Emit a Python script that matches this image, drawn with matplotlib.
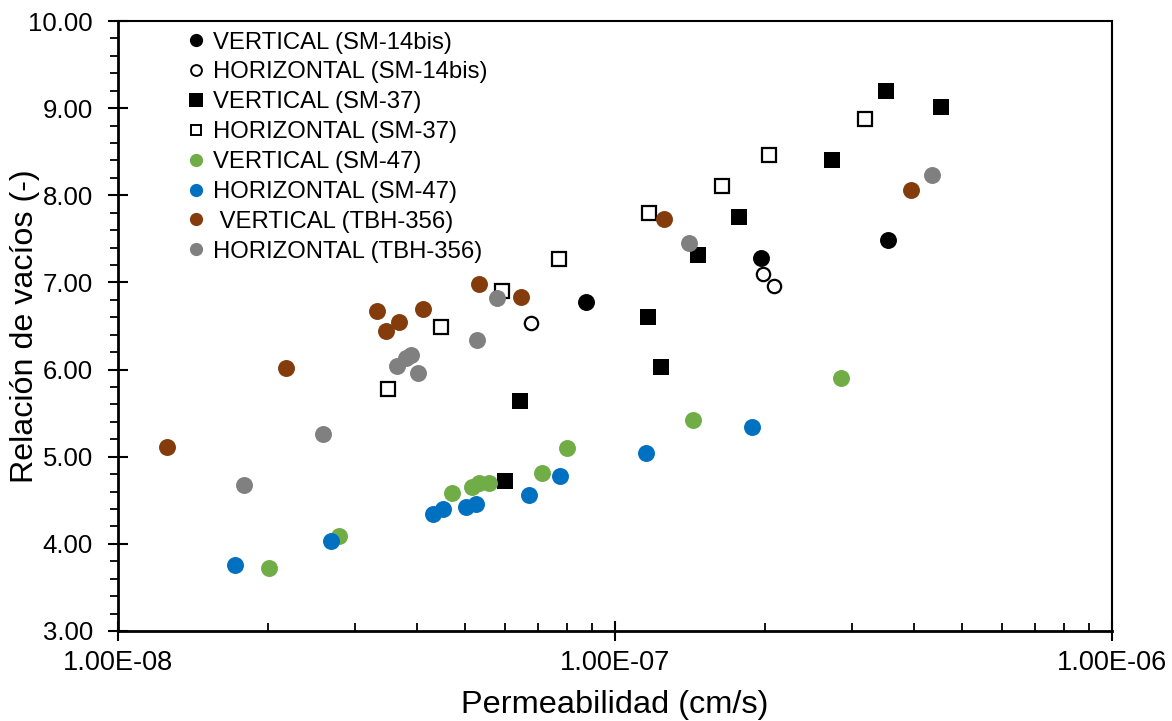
import matplotlib
matplotlib.use("Agg")
import matplotlib.pyplot as plt
from matplotlib.lines import Line2D
from matplotlib.ticker import FixedLocator, FuncFormatter, MultipleLocator, LogLocator, NullFormatter

plt.rcParams['font.family'] = ['Liberation Sans', 'DejaVu Sans']

# ---- data ----
sm14_v_k = [8.74e-8, 1.97e-7, 3.54e-7]
sm14_v_e = [6.78, 7.28, 7.49]

sm14_h_k = [6.78e-8, 1.985e-7, 2.089e-7]
sm14_h_e = [6.53, 7.10, 6.96]

sm37_v_k = [6.01e-8, 6.44e-8, 1.165e-7, 1.238e-7, 1.469e-7, 1.776e-7, 2.733e-7, 3.51e-7, 4.53e-7]
sm37_v_e = [4.72, 5.64, 6.60, 6.03, 7.31, 7.75, 8.41, 9.20, 9.01]

sm37_h_k = [3.49e-8, 4.47e-8, 5.93e-8, 7.72e-8, 1.170e-7, 1.642e-7, 2.041e-7, 3.18e-7]
sm37_h_e = [5.78, 6.49, 6.90, 7.27, 7.80, 8.11, 8.46, 8.88]

sm47_v_k = [2.01e-8, 2.78e-8, 4.70e-8, 5.16e-8, 5.33e-8, 5.58e-8, 7.13e-8, 8.01e-8, 1.436e-7, 2.85e-7]
sm47_v_e = [3.72, 4.09, 4.58, 4.65, 4.70, 4.70, 4.81, 5.10, 5.42, 5.90]

sm47_h_k = [1.72e-8, 2.68e-8, 4.30e-8, 4.51e-8, 5.01e-8, 5.25e-8, 6.71e-8, 7.75e-8, 1.154e-7, 1.887e-7]
sm47_h_e = [3.76, 4.03, 4.34, 4.40, 4.42, 4.46, 4.56, 4.78, 5.04, 5.34]

tbh_v_k = [1.255e-8, 2.18e-8, 3.32e-8, 3.46e-8, 3.68e-8, 4.11e-8, 5.33e-8, 6.47e-8, 1.255e-7, 3.94e-7]
tbh_v_e = [5.11, 6.02, 6.67, 6.44, 6.55, 6.70, 6.98, 6.83, 7.73, 8.06]

tbh_h_k = [1.79e-8, 2.58e-8, 3.64e-8, 3.80e-8, 3.89e-8, 4.01e-8, 5.28e-8, 5.79e-8, 1.409e-7, 4.34e-7]
tbh_h_e = [4.68, 5.26, 6.04, 6.13, 6.17, 5.96, 6.34, 6.82, 7.45, 8.23]

labels = ["VERTICAL (SM-14bis)", "HORIZONTAL (SM-14bis)", "VERTICAL (SM-37)",
          "HORIZONTAL (SM-37)", "VERTICAL (SM-47)", "HORIZONTAL (SM-47)",
          " VERTICAL (TBH-356)", "HORIZONTAL (TBH-356)"]
x_ticks = [1e-8, 1e-7, 1e-6]
y_ticks = [3, 4, 5, 6, 7, 8, 9, 10]

series = [
    (sm14_v_k, sm14_v_e, 'o', 'black', True),
    (sm14_h_k, sm14_h_e, 'o', 'black', False),
    (sm37_v_k, sm37_v_e, 's', 'black', True),
    (sm37_h_k, sm37_h_e, 's', 'black', False),
    (sm47_v_k, sm47_v_e, 'o', '#70AD47', True),
    (sm47_h_k, sm47_h_e, 'o', '#0070C0', True),
    (tbh_v_k, tbh_v_e, 'o', '#843C0C', True),
    (tbh_h_k, tbh_h_e, 'o', '#808080', True),
]

fig = plt.figure(figsize=(11.72, 7.21), dpi=100)
ax = fig.add_axes([118/1172, 1-631/721, (1112-118)/1172, (631-21)/721])

handles = []
for (xs, ys, mk, col, filled), lab in zip(series, labels):
    if filled:
        ax.plot(xs, ys, linestyle='none', marker=mk, markersize=12.2,
                markerfacecolor=col, markeredgewidth=0, zorder=3)
        handles.append(Line2D([], [], linestyle='none', marker=mk, markersize=9.5,
                              markerfacecolor=col, markeredgewidth=0))
    else:
        ax.plot(xs, ys, linestyle='none', marker=mk, markersize=9.6,
                markerfacecolor='white', markeredgecolor=col, markeredgewidth=1.6, zorder=3)
        handles.append(Line2D([], [], linestyle='none', marker=mk, markersize=7.8,
                              markerfacecolor='white', markeredgecolor=col, markeredgewidth=1.4))

ax.set_xscale('log')
ax.set_xlim(1e-8, 1e-6)
ax.set_ylim(3, 10)

ax.xaxis.set_major_locator(FixedLocator(x_ticks))
ax.xaxis.set_major_formatter(FuncFormatter(lambda v, p: f"{v:.2E}"))
ax.xaxis.set_minor_locator(LogLocator(base=10, subs=range(2, 10)))
ax.xaxis.set_minor_formatter(NullFormatter())

ax.yaxis.set_major_locator(FixedLocator(y_ticks))
ax.yaxis.set_major_formatter(FuncFormatter(lambda v, p: f"{v:.2f}"))
ax.yaxis.set_minor_locator(MultipleLocator(0.2))

ax.tick_params(axis='x', which='major', direction='inout', length=14, width=1.5, labelsize=19.5, pad=7)
ax.tick_params(axis='x', which='minor', direction='in', length=6, width=1.3)
ax.tick_params(axis='y', which='major', direction='inout', length=14, width=1.5, labelsize=18.5, pad=11)
ax.tick_params(axis='y', which='minor', direction='out', length=6, width=1.3)

for s in ['left', 'bottom']:
    ax.spines[s].set_linewidth(2.0)
for s in ['top', 'right']:
    ax.spines[s].set_linewidth(1.5)

ax.set_xlabel("Permeabilidad (cm/s)", fontsize=23.4)
ax.set_ylabel("Relación de vacíos (-)", fontsize=23.2)
ax.xaxis.label.set_va('center')
ax.yaxis.label.set_va('center')
ax.xaxis.set_label_coords(0.5, -(705-631)/610)
ax.yaxis.set_label_coords(-(118-25)/994, 0.5)

leg = ax.legend(handles, labels, loc='upper left', bbox_to_anchor=(163/1172, 1-10/721),
                bbox_transform=fig.transFigure, frameon=False, fontsize=17.2,
                handlelength=1.0, handletextpad=0.2, labelspacing=0.33, borderpad=0.4)

fig.savefig("out.png", dpi=100)
